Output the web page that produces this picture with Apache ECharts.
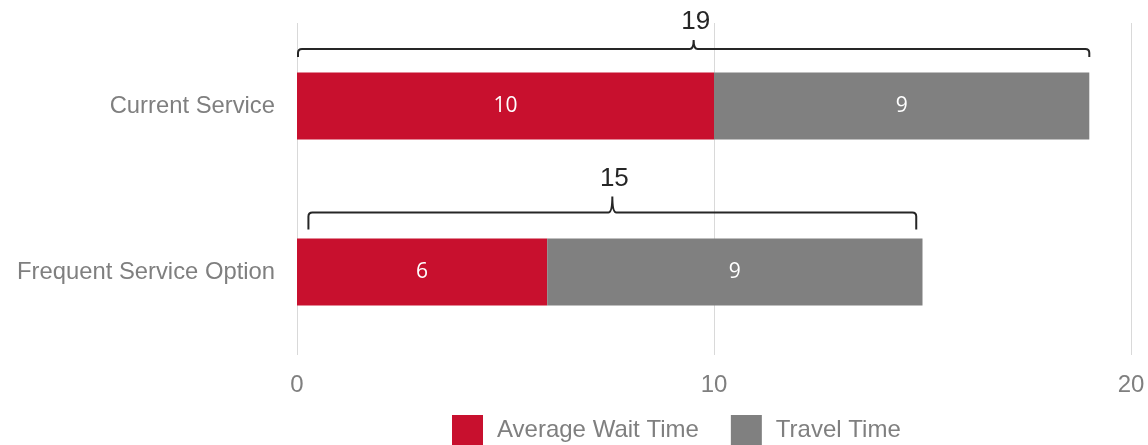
<!DOCTYPE html>
<html>
<head>
<meta charset="utf-8">
<script src="https://cdn.jsdelivr.net/npm/echarts@6/dist/echarts.min.js"></script>
<style>
html,body{margin:0;padding:0;background:#fff;}
#chart{width:1148px;height:445px;}
</style>
</head>
<body>
<div id="chart"></div>
<script>
const categories = ['Current Service', 'Frequent Service Option'];
const seriesNames = ['Average Wait Time', 'Travel Time'];
const waitTime = [10, 6];
const travelTime = [9, 9];
const totals = [19, 15];
const bracketStart = [0, 0.25];
const bracketEnd = [19, 14.85];
const xTicks = [0, 10, 20];

const bracketStyle = [
  { lineOffset: -57, drop: 8, rise: 9, labelOffset: -27 },
  { lineOffset: -59.5, drop: 17, rise: 16, labelOffset: -34 }
];

const bracketData = categories.map((c, i) => [bracketStart[i], bracketEnd[i], i, totals[i]]);

const chart = echarts.init(document.getElementById('chart'), null, { renderer: 'canvas' });

function renderBracket(params, api) {
  const i = params.dataIndex;
  const s = bracketStyle[i];
  const p1 = api.coord([api.value(0), api.value(2)]);
  const p2 = api.coord([api.value(1), api.value(2)]);
  const y = p1[1] + s.lineOffset;
  const x1 = p1[0] + 1;
  const x2 = p2[0];
  const xm = (x1 + x2) / 2;
  const r = 4;
  const d = [
    'M', x1, y + s.drop,
    'L', x1, y + r,
    'Q', x1, y, x1 + r, y,
    'L', xm - r, y,
    'Q', xm, y, xm, y - s.rise,
    'Q', xm, y, xm + r, y,
    'L', x2 - r, y,
    'Q', x2, y, x2, y + r,
    'L', x2, y + s.drop
  ].join(' ');
  return {
    type: 'group',
    children: [
      {
        type: 'path',
        shape: { pathData: d },
        style: { fill: 'none', stroke: '#262626', lineWidth: 2 }
      },
      {
        type: 'text',
        x: xm + 2,
        y: y + s.labelOffset,
        style: {
          text: String(api.value(3)),
          fill: '#262626',
          font: '26px "Liberation Sans", Arial, sans-serif',
          align: 'center',
          verticalAlign: 'middle'
        }
      }
    ]
  };
}

const option = {
  animation: false,
  backgroundColor: '#ffffff',
  grid: { left: 297, right: 17, top: 23, bottom: 90, containLabel: false },
  legend: {
    data: seriesNames,
    left: 447,
    top: 410,
    itemWidth: 31,
    itemHeight: 31,
    itemGap: 32,
    icon: 'rect',
    textStyle: {
      fontSize: 24,
      color: '#7f7f7f',
      fontFamily: '"Liberation Sans", Arial, sans-serif',
      padding: [0, 0, 0, 9]
    }
  },
  xAxis: {
    type: 'value',
    min: xTicks[0],
    max: xTicks[xTicks.length - 1],
    interval: xTicks[1] - xTicks[0],
    axisLine: { show: false },
    axisTick: { show: false },
    splitLine: { show: true, lineStyle: { color: '#d9d9d9', width: 1 } },
    axisLabel: {
      fontSize: 24,
      color: '#7f7f7f',
      fontFamily: '"Liberation Sans", Arial, sans-serif',
      margin: 18
    }
  },
  yAxis: {
    type: 'category',
    data: categories,
    inverse: true,
    axisLine: { show: false },
    axisTick: { show: false },
    splitLine: { show: false },
    axisLabel: {
      fontSize: 23.8,
      color: '#7f7f7f',
      fontFamily: '"Liberation Sans", Arial, sans-serif',
      margin: 22
    }
  },
  series: [
    {
      name: seriesNames[0],
      type: 'bar',
      stack: 'total',
      barWidth: 67,
      data: waitTime,
      itemStyle: { color: '#C8102E' },
      label: {
        show: true,
        position: 'inside',
        color: '#ffffff',
        fontSize: 21,
        fontFamily: '"Open Sans", "Noto Sans", sans-serif'
      }
    },
    {
      name: seriesNames[1],
      type: 'bar',
      stack: 'total',
      barWidth: 67,
      data: travelTime,
      itemStyle: { color: '#808080' },
      label: {
        show: true,
        position: 'inside',
        color: '#ffffff',
        fontSize: 21,
        fontFamily: '"Open Sans", "Noto Sans", sans-serif'
      }
    },
    {
      name: 'Total',
      type: 'custom',
      renderItem: renderBracket,
      encode: { x: [0, 1], y: 2 },
      data: bracketData,
      clip: false,
      silent: true,
      z: 10
    }
  ]
};

chart.setOption(option);
</script>
</body>
</html>
